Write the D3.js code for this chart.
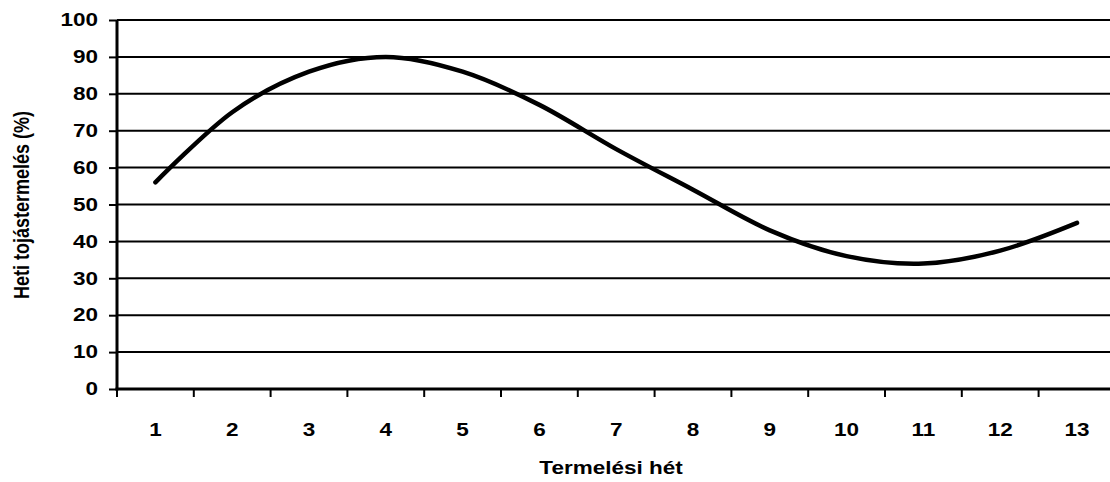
<!DOCTYPE html>
<html><head><meta charset="utf-8">
<script src="https://cdn.jsdelivr.net/npm/d3@7"></script>
<style>body{margin:0;background:#fff}svg{display:block}text{font-family:"Liberation Sans",Arial,sans-serif;font-weight:bold;fill:#000}</style>
</head><body><svg id="c" width="1110" height="482"></svg>
<script>
const weeks = ["1","2","3","4","5","6","7","8","9","10","11","12","13"];
const production = [56, 75, 86, 90, 86, 77, 65, 54, 43, 36, 34, 37.5, 45];
const yTicks = [0,10,20,30,40,50,60,70,80,90,100];
const xTitle = "Termelési hét";
const yTitle = "Heti tojástermelés (%)";

const svg = d3.select("#c");
const L = 117, T = 20, B = 389, bw = 76.8, SX = 1.25;
const R = L + bw * weeks.length;
const x = d3.scaleBand().domain(weeks).range([L, R]);
const y = d3.scaleLinear().domain([0, 100]).range([B, T]);
const fontStyle = sel => sel.style("font-size", "18px")
  .style("font-family", '"Liberation Sans",Arial,sans-serif').style("font-weight", "bold");

// gridlines
svg.append("g").selectAll("line").data(yTicks.filter(d => d > 0)).join("line")
  .attr("x1", L).attr("x2", R).attr("y1", d => y(d)).attr("y2", d => y(d))
  .attr("stroke", "#000").attr("stroke-width", 2);

// y axis
const ya = svg.append("g").attr("transform", `translate(${L},0)`)
  .call(d3.axisLeft(y).tickValues(yTicks).tickSize(8).tickPadding(11));
ya.select(".domain").attr("stroke-width", 3).attr("d", `M0,${T}V${B+1.5}`);
ya.selectAll(".tick line").attr("stroke-width", 2);
ya.selectAll("text").call(fontStyle).attr("x", -19 / SX).attr("transform", `scale(${SX},1)`);

// x axis
const xa = svg.append("g").attr("transform", `translate(0,${B})`)
  .call(d3.axisBottom(x).tickSize(0).tickPadding(34));
xa.select(".domain").attr("stroke-width", 3).attr("d", `M${L-1.5},0H${R}`);
xa.selectAll("text").call(fontStyle).attr("transform", `scale(${SX},1)`);
// boundary ticks
svg.append("g").selectAll("line").data(weeks.slice(1).concat(["start"])).join("line")
  .attr("x1", d => d === "start" ? L : x(d)).attr("x2", d => d === "start" ? L : x(d))
  .attr("y1", B).attr("y2", B + 8).attr("stroke", "#000").attr("stroke-width", 2);

// line
const line = d3.line().x((d, i) => x(weeks[i]) + x.bandwidth() / 2).y(d => y(d))
  .curve(d3.curveCardinal.tension(0));
svg.append("path").datum(production).attr("d", line)
  .attr("fill", "none").attr("stroke", "#000").attr("stroke-width", 4.5)
  .attr("stroke-linecap", "round").attr("stroke-linejoin", "round");

// titles
svg.append("text").attr("transform", `translate(611,474) scale(${SX},1)`).attr("text-anchor", "middle")
  .style("font-size", "18px").text(xTitle);
svg.append("text").attr("transform", `translate(29,205) scale(${SX},1) rotate(-90)`).attr("text-anchor", "middle")
  .style("font-size", "18px").text(yTitle);
</script></body></html>
